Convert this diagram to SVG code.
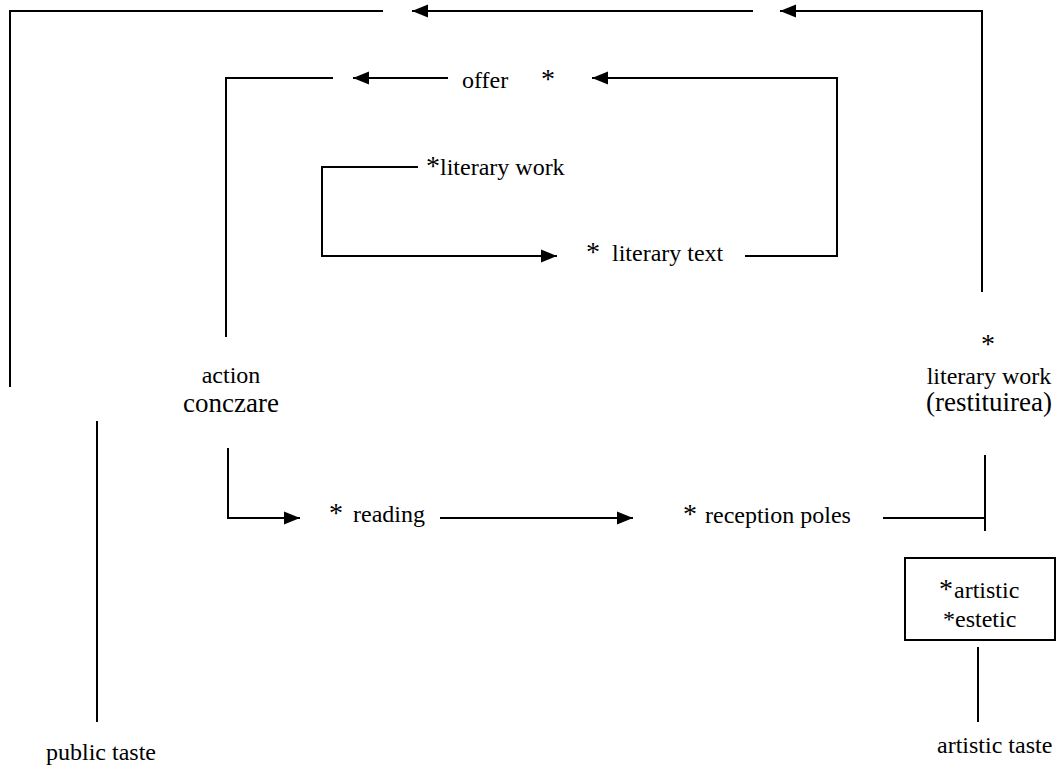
<svg xmlns="http://www.w3.org/2000/svg" width="1057" height="771" viewBox="0 0 1057 771">
<defs>
<marker id="ah" markerUnits="userSpaceOnUse" markerWidth="16" markerHeight="14" refX="16" refY="7" orient="auto">
<path d="M0,0.5 L16,7 L0,13.5 z" fill="#000"/>
</marker>
<style>
text{font-size:24px;fill:#000}
.big{font-size:27px}
.ast{font-size:28px}
.c{text-anchor:middle}
.ln{fill:none;stroke:#000;stroke-width:2}
.ar{marker-end:url(#ah)}
</style>
</defs>
<rect width="1057" height="771" fill="#fff"/>
<g id="connectors">
<path class="ln" d="M383,11 H10 V387"/>
<path class="ln ar" d="M753,11 H412"/>
<path class="ln ar" d="M982,292 V11 H780"/>
<path class="ln" d="M333,78 H226 V337"/>
<path class="ln ar" d="M448,78 H353"/>
<path class="ln ar" d="M745,256 H837 V78 H592"/>
<path class="ln ar" d="M418,167 H322 V256 H557"/>
<path class="ln ar" d="M228,448 V518 H300"/>
<path class="ln ar" d="M440,518 H633"/>
<path class="ln" d="M883,518 H985"/>
<path class="ln" d="M985,455 V531"/>
<path class="ln" d="M978,647 V722"/>
<path class="ln" d="M97,421 V722"/>
</g>
<g font-family="'Liberation Serif', 'DejaVu Serif', serif">
<g id="offer"><text y="88"><tspan x="462">offer</tspan> <tspan x="541" class="ast">*</tspan></text></g>
<g id="literary-work"><text y="175"><tspan x="426" class="ast">*</tspan><tspan>literary work</tspan></text></g>
<g id="literary-text"><text y="261"><tspan x="586" class="ast">*</tspan> <tspan x="612">literary text</tspan></text></g>
<g id="action"><text class="c" x="231" y="383">action</text><text class="c big" x="231" y="412">conczare</text></g>
<g id="restituirea"><text class="c ast" x="988" y="353">*</text><text class="c" x="989" y="384">literary work</text><text class="c big" x="989" y="411">(restituirea)</text></g>
<g id="reading"><text y="522"><tspan x="329" class="ast">*</tspan> <tspan x="353">reading</tspan></text></g>
<g id="reception"><text y="523"><tspan x="683" class="ast">*</tspan> <tspan x="705">reception poles</tspan></text></g>
<g id="box"><rect x="905" y="558" width="150" height="82" class="ln"/>
<text y="598"><tspan x="939" class="ast">*</tspan> <tspan x="954">artistic</tspan></text>
<text y="627"><tspan x="943">*</tspan> <tspan x="955">estetic</tspan></text></g>
<g id="artistic-taste"><text x="937" y="753">artistic taste</text></g>
<g id="public-taste"><text x="46" y="760">public taste</text></g>
</g>
</svg>
